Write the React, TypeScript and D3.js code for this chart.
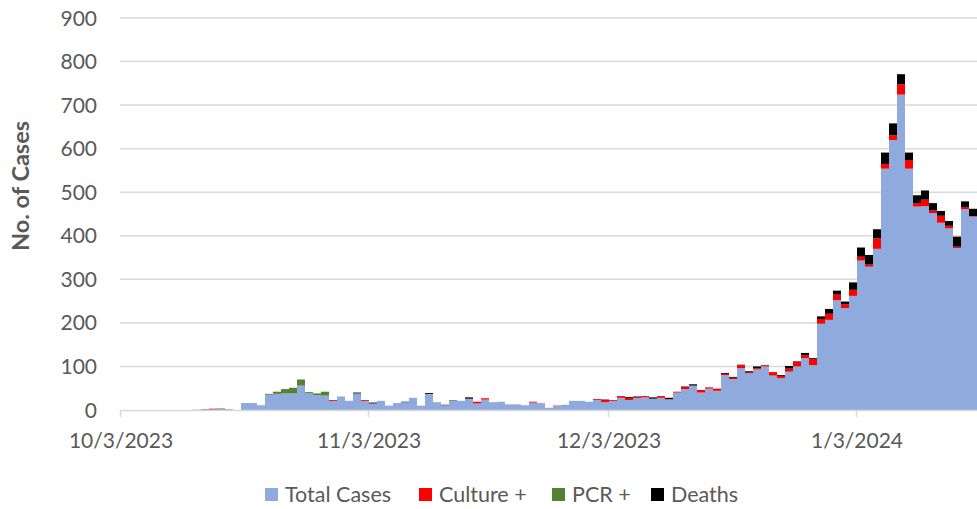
import React, { useRef, useEffect } from "react";
import * as d3 from "d3";

// one entry per day, starting 10/3/2023
const startDate = new Date(2023, 9, 3);

const totalCases = [
  0, 0, 0, 0, 0, 0, 0, 0, 0, 1, 1, 1, 2, 2, 0, 16, 16, 11, 35, 37,
  38, 38, 56, 38, 34, 33, 21, 31, 21, 38, 21, 15, 21, 10, 16, 18, 28, 10, 37, 18,
  11, 21, 21, 26, 15, 24, 18, 19, 13, 13, 11, 17, 14, 5, 9, 12, 21, 21, 19, 23,
  18, 21, 28, 23, 27, 29, 26, 28, 24, 40, 48, 56, 40, 49, 44, 80, 71, 96, 84, 93,
  100, 79, 73, 88, 100, 119, 103, 198, 207, 252, 234, 262, 343, 329, 370, 554, 620, 724, 554, 467,
  468, 452, 430, 417, 372, 461, 444,
];

const culturePos = [
  0, 0, 0, 0, 0, 0, 0, 0, 0, 0, 1, 2, 0, 0, 0, 0, 0, 0, 0, 0,
  0, 0, 0, 0, 0, 0, 2, 0, 0, 0, 2, 0, 0, 0, 0, 0, 0, 0, 0, 0,
  0, 0, 0, 0, 4, 3, 0, 0, 0, 0, 0, 2, 1, 0, 1, 0, 0, 0, 0, 2,
  5, 2, 4, 5, 2, 3, 0, 4, 1, 2, 5, 0, 6, 3, 5, 3, 3, 7, 2, 3,
  3, 8, 5, 7, 11, 7, 14, 11, 14, 13, 9, 14, 9, 5, 24, 11, 11, 24, 20, 8,
  15, 6, 16, 6, 3, 5, 1,
];

const pcrPos = [
  0, 0, 0, 0, 0, 0, 0, 0, 0, 0, 0, 0, 0, 0, 0, 0, 0, 0, 2, 5,
  10, 13, 14, 3, 4, 9, 0, 0, 0, 0, 0, 0, 0, 0, 0, 0, 0, 0, 0, 0,
  0, 0, 0, 0, 0, 0, 0, 0, 0, 0, 0, 0, 0, 0, 0, 0, 0, 0, 0, 0,
  0, 0, 0, 0, 0, 0, 0, 0, 0, 0, 0, 0, 0, 0, 0, 0, 0, 0, 0, 0,
  0, 0, 0, 0, 0, 0, 0, 0, 0, 0, 0, 0, 0, 0, 0, 0, 0, 0, 0, 0,
  0, 0, 0, 0, 0, 0, 0,
];

const deaths = [
  0, 0, 0, 0, 0, 0, 0, 0, 0, 0, 0, 0, 1, 0, 0, 0, 0, 0, 0, 0,
  0, 0, 0, 0, 0, 0, 0, 0, 0, 2, 0, 2, 0, 0, 0, 1, 0, 0, 2, 0,
  1, 1, 0, 3, 0, 0, 0, 0, 0, 0, 0, 0, 0, 0, 0, 0, 0, 0, 0, 0,
  1, 0, 0, 2, 2, 0, 3, 0, 3, 0, 1, 3, 0, 0, 0, 2, 2, 1, 3, 4,
  0, 0, 2, 6, 1, 5, 2, 6, 11, 9, 6, 17, 21, 22, 21, 26, 27, 23, 17, 18,
  21, 17, 11, 11, 23, 13, 17,
];

const seriesNames = ["Total Cases", "Culture +", "PCR +", "Deaths"];
const seriesColors = ["#8faadc", "#ff0000", "#548235", "#000000"];
const yTicks = [0, 100, 200, 300, 400, 500, 600, 700, 800, 900];
const xTickDates = [
  new Date(2023, 9, 3),
  new Date(2023, 10, 3),
  new Date(2023, 11, 3),
  new Date(2024, 0, 3),
];

const width = 977;
const height = 509;
const fontFamily = "Lato, 'Open Sans', sans-serif";
const textColor = "#595959";

const StackedCasesChart = () => {
  const svgRef = useRef(null);

  useEffect(() => {
    const svg = d3.select(svgRef.current);
    const rows = totalCases.map((v, i) => ({
      date: d3.timeDay.offset(startDate, i),
      "Total Cases": v,
      "Culture +": culturePos[i],
      "PCR +": pcrPos[i],
      Deaths: deaths[i],
    }));

    const x = d3
      .scaleTime()
      .domain([startDate, d3.timeDay.offset(startDate, rows.length)])
      .range([121, 977]);
    const y = d3.scaleLinear().domain([0, 900]).range([410, 18]);

    // gridlines
    svg
      .append("g")
      .selectAll("line")
      .data(yTicks.slice(1))
      .enter()
      .append("line")
      .attr("x1", 120)
      .attr("x2", width)
      .attr("y1", (d) => y(d))
      .attr("y2", (d) => y(d))
      .attr("stroke", "#d9d9d9")
      .attr("stroke-width", 1.5);

    const stacked = d3.stack().keys(seriesNames)(rows as any);
    stacked.forEach((layer, idx) => {
      svg
        .append("g")
        .attr("fill", seriesColors[idx])
        .selectAll("rect")
        .data(layer.filter((d) => d[1] - d[0] > 0))
        .enter()
        .append("rect")
        .attr("x", (d) => x(d.data.date))
        .attr("width", (d) => x(d3.timeDay.offset(d.data.date, 1)) - x(d.data.date))
        .attr("y", (d) => y(d[1]))
        .attr("height", (d) => y(d[0]) - y(d[1]));
    });

    // x axis
    const xAxis = svg.append("g");
    xAxis
      .append("line")
      .attr("x1", 120)
      .attr("x2", width)
      .attr("y1", 410.5)
      .attr("y2", 410.5)
      .attr("stroke", "#d9d9d9")
      .attr("stroke-width", 1.5);
    xAxis
      .selectAll("line.tick")
      .data(xTickDates)
      .enter()
      .append("line")
      .attr("class", "tick")
      .attr("x1", (d) => x(d) - 0.5)
      .attr("x2", (d) => x(d) - 0.5)
      .attr("y1", 410)
      .attr("y2", 417)
      .attr("stroke", "#d9d9d9")
      .attr("stroke-width", 1.5);
    xAxis
      .selectAll("text")
      .data(xTickDates)
      .enter()
      .append("text")
      .attr("x", (d) => x(d))
      .attr("y", 448)
      .attr("text-anchor", "middle")
      .style("font-family", fontFamily)
      .style("font-size", "21px")
      .style("fill", textColor)
      .text((d) => d3.timeFormat("%-m/%-d/%Y")(d));

    // y axis labels
    svg
      .append("g")
      .selectAll("text")
      .data(yTicks)
      .enter()
      .append("text")
      .attr("x", 97)
      .attr("y", (d) => y(d))
      .attr("dy", "0.36em")
      .attr("text-anchor", "end")
      .style("font-family", fontFamily)
      .style("font-size", "21px")
      .style("fill", textColor)
      .text((d) => d);

    svg
      .append("text")
      .attr("transform", "translate(29, 186) rotate(-90)")
      .attr("text-anchor", "middle")
      .style("font-family", fontFamily)
      .style("font-size", "23.5px")
      .style("font-weight", "bold")
      .style("fill", textColor)
      .text("No. of Cases");

    // legend
    const legendX = [265, 419, 552, 651];
    const legend = svg.append("g");
    seriesNames.forEach((name, idx) => {
      const g = legend
        .append("g")
        .attr("transform", `translate(${legendX[idx]}, 488)`);
      g.append("rect")
        .attr("width", 13)
        .attr("height", 13)
        .attr("fill", seriesColors[idx]);
      g.append("text")
        .attr("x", 20)
        .attr("y", 14)
        .style("font-family", fontFamily)
        .style("font-size", "21.5px")
        .style("fill", textColor)
        .text(name);
    });

    return () => {
      svg.selectAll("*").remove();
    };
  }, []);

  return (
    <svg
      ref={svgRef}
      width={width}
      height={height}
      style={{ position: "absolute", left: 0, top: 0, background: "#fff" }}
    ></svg>
  );
};

export default function App() {
  return <StackedCasesChart />;
}
